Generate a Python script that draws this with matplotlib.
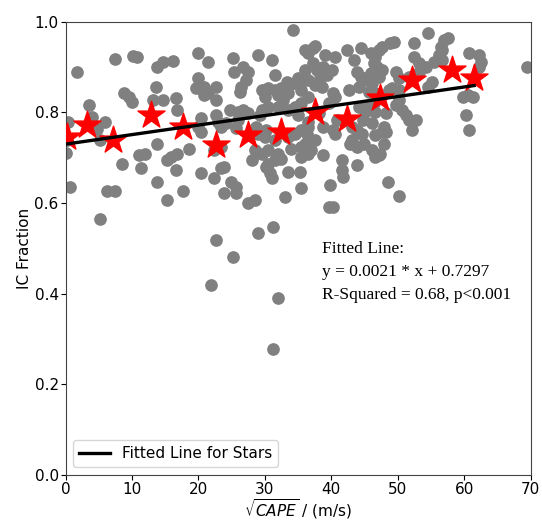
import numpy as np
import matplotlib
matplotlib.use("Agg")
import matplotlib.pyplot as plt

# gray scatter: sqrt(CAPE) vs IC fraction
cape_x = [1.7, 7.5, 10.2, 10.7, 13.8, 14.6, 16.2, 19.9, 21.4, 8.8,
          9.5, 10.0, 13.6, 13.1, 14.6, 16.6, 16.8, 19.9, 19.6, 20.9,
          20.9, 22.7, 22.7, 3.5, 4.0, 4.7, 6.0, 0.4, 20.4, 22.7,
          0.7, 6.2, 7.5, 5.2, 8.5, 11.3, 11.0, 12.0, 13.8, 13.8,
          15.3, 15.8, 16.8, 16.6, 17.6, 15.3, 18.6, 20.4, 22.7, 22.4,
          23.4, 23.9, 23.9, 24.9, 25.7, 25.7, 27.5, 28.5, 29.0, 31.2,
          33.0, 35.5, 0.0, 0.2, 5.2, 25.2, 21.9, 32.0, 31.2, 30.2,
          30.7, 31.0, 33.5, 35.3, 32.5, 38.8, 39.8, 39.6, 40.3, 41.6,
          41.8, 43.9, 42.8, 43.9, 44.9, 47.2, 47.4, 46.6, 48.6, 50.2,
          47.7, 46.6, 52.2, 60.8, 19.9, 20.4, 21.4, 22.9, 23.4, 24.2,
          22.4, 23.4, 25.2, 25.4, 26.7, 27.2, 27.5, 26.4, 26.2, 24.7,
          25.9, 26.7, 27.5, 25.9, 29.0, 31.0, 31.5, 29.5, 30.5, 31.5,
          32.5, 33.5, 34.5, 35.5, 36.5, 30.0, 32.0, 33.5, 35.5, 36.5,
          29.5, 30.5, 32.0, 33.5, 34.5, 35.5, 29.0, 30.0, 31.5, 33.5,
          34.5, 35.5, 36.5, 28.5, 29.5, 30.5, 32.0, 34.0, 35.5, 36.5,
          28.0, 30.5, 31.5, 34.3, 36.0, 36.5, 37.3, 39.1, 40.6, 42.3,
          44.4, 45.9, 43.4, 43.9, 45.4, 46.4, 33.3, 35.0, 36.0, 37.3,
          37.8, 38.8, 40.1, 38.3, 39.3, 37.5, 38.6, 40.3, 29.2, 32.8,
          25.7, 28.7, 30.2, 38.8, 40.3, 43.9, 44.4, 45.9, 45.4, 46.4,
          40.8, 54.5, 57.0, 57.5, 56.5, 56.7, 52.5, 47.7, 48.9, 49.4,
          47.2, 60.8, 62.3, 62.5, 62.3, 69.4, 46.6, 46.9, 47.7, 47.2,
          46.1, 49.7, 50.2, 52.5, 53.2, 54.2, 55.5, 56.2, 56.7, 54.5,
          55.2, 48.7, 49.2, 50.2, 59.8, 61.3, 60.5, 49.7, 50.7, 46.6,
          48.2, 51.7, 52.7, 48.2, 60.3, 51.7, 53.2, 50.2, 51.2, 47.9,
          46.1, 45.0, 44.8, 46.1, 47.9, 43.1, 41.6, 36.3, 36.0, 37.0,
          37.5, 40.6, 35.5, 35.0, 36.5, 38.1, 39.6, 40.6, 44.1, 42.6,
          44.1, 45.6, 46.6, 44.6, 43.1, 37.5]
ic_frac = [0.889, 0.917, 0.924, 0.921, 0.900, 0.911, 0.914, 0.931, 0.911, 0.843,
           0.833, 0.823, 0.856, 0.826, 0.826, 0.831, 0.806, 0.875, 0.853, 0.856,
           0.838, 0.856, 0.827, 0.816, 0.790, 0.764, 0.779, 0.779, 0.787, 0.794,
           0.636, 0.627, 0.627, 0.564, 0.685, 0.676, 0.706, 0.709, 0.647, 0.730,
           0.695, 0.702, 0.709, 0.673, 0.627, 0.606, 0.720, 0.665, 0.518, 0.654,
           0.676, 0.680, 0.621, 0.647, 0.636, 0.621, 0.599, 0.606, 0.533, 0.548,
           0.614, 0.632, 0.710, 0.739, 0.739, 0.481, 0.419, 0.390, 0.277, 0.680,
           0.665, 0.654, 0.669, 0.669, 0.698, 0.706, 0.639, 0.592, 0.592, 0.673,
           0.658, 0.684, 0.731, 0.724, 0.731, 0.706, 0.709, 0.702, 0.647, 0.615,
           0.757, 0.750, 0.761, 0.761, 0.768, 0.757, 0.842, 0.779, 0.768, 0.776,
           0.717, 0.724, 0.919, 0.889, 0.900, 0.871, 0.889, 0.856, 0.845, 0.805,
           0.801, 0.805, 0.798, 0.783, 0.926, 0.915, 0.882, 0.849, 0.853, 0.849,
           0.853, 0.856, 0.864, 0.867, 0.871, 0.834, 0.838, 0.842, 0.849, 0.834,
           0.805, 0.812, 0.812, 0.805, 0.812, 0.820, 0.753, 0.746, 0.739, 0.746,
           0.753, 0.761, 0.768, 0.717, 0.709, 0.717, 0.709, 0.720, 0.724, 0.709,
           0.695, 0.687, 0.695, 0.981, 0.937, 0.930, 0.941, 0.926, 0.922, 0.937,
           0.941, 0.930, 0.915, 0.889, 0.871, 0.908, 0.867, 0.875, 0.893, 0.908,
           0.893, 0.900, 0.893, 0.875, 0.882, 0.860, 0.856, 0.842, 0.794, 0.827,
           0.765, 0.768, 0.761, 0.768, 0.761, 0.761, 0.878, 0.886, 0.812, 0.820,
           0.783, 0.974, 0.959, 0.963, 0.944, 0.937, 0.952, 0.944, 0.952, 0.955,
           0.937, 0.930, 0.926, 0.911, 0.900, 0.900, 0.922, 0.900, 0.893, 0.878,
           0.864, 0.889, 0.875, 0.922, 0.908, 0.900, 0.911, 0.926, 0.915, 0.856,
           0.867, 0.849, 0.853, 0.849, 0.834, 0.834, 0.838, 0.816, 0.805, 0.801,
           0.798, 0.783, 0.783, 0.757, 0.794, 0.878, 0.889, 0.827, 0.794, 0.731,
           0.717, 0.801, 0.783, 0.776, 0.768, 0.739, 0.695, 0.753, 0.731, 0.717,
           0.739, 0.753, 0.702, 0.794, 0.779, 0.798, 0.820, 0.834, 0.812, 0.849,
           0.856, 0.845, 0.842, 0.753, 0.768, 0.947]

# binned means (red stars)
star_x = [0.2, 3.2, 7.2, 12.8, 17.6, 22.6, 27.4, 32.5, 37.5, 42.4, 47.4, 52.2, 58.1, 61.5]
star_y = [0.746, 0.772, 0.739, 0.794, 0.768, 0.728, 0.750, 0.757, 0.801, 0.786, 0.831, 0.871, 0.893, 0.875]

fit_slope = 0.0021
fit_intercept = 0.7297

fig = plt.figure(figsize=(5.42, 5.25), dpi=100)
ax = fig.add_axes([0.121, 0.095, 0.858, 0.864])

ax.scatter(cape_x, ic_frac, s=66, color='grey', zorder=2)
ax.scatter(star_x, star_y, marker='*', s=420, color='red', zorder=3)

line_x = np.array([0.0, max(star_x)])
ax.plot(line_x, fit_slope * line_x + fit_intercept, color='black', lw=2.4,
        label='Fitted Line for Stars', zorder=4)

ax.text(38.6, 0.517,
        'Fitted Line:\ny = %.4f * x + %.4f\nR-Squared = 0.68, p<0.001' % (fit_slope, fit_intercept),
        family='Liberation Serif', fontsize=12.5, va='top', ha='left', linespacing=1.62)

ax.set_xlim(0, 70)
ax.set_ylim(0, 1.0)
ax.set_xticks(np.arange(0, 71, 10))
ax.set_yticks(np.arange(0, 1.01, 0.2))
ax.tick_params(labelsize=11, pad=1.5)
ax.set_xlabel(r'$\sqrt{CAPE}$ / (m/s)', fontsize=11, labelpad=0)
ax.set_ylabel('IC Fraction', fontsize=11, labelpad=2)
for sp in ax.spines.values():
    sp.set_color('#444444')

ax.legend(loc='lower left', fontsize=11)

fig.savefig('out.png', dpi=100)
